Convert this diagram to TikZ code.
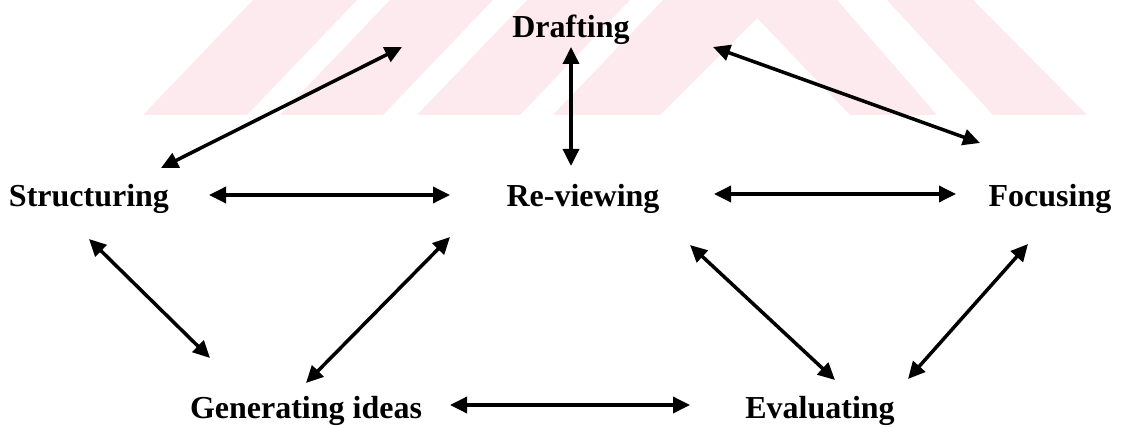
\documentclass[tikz,border=0pt]{standalone}
\usepackage{fontspec}
\setmainfont{Liberation Serif}
\usetikzlibrary{arrows.meta}
\definecolor{wmpink}{RGB}{252,234,238}
\tikzset{
  label/.style={font=\fontsize{32}{38}\selectfont\bfseries, anchor=base, inner sep=0pt},
  link/.style={line width=3.5pt, {Triangle[length=17pt,width=16pt]}-{Triangle[length=17pt,width=16pt]}},
  wm/.style={fill=wmpink, draw=none}
}
\begin{document}
\begin{tikzpicture}[x=1pt,y=-1pt]
\useasboundingbox (0,0) rectangle (1121,427);
% faint background bands
\fill[wm] (143,115) -- (247,115) -- (357,0) -- (253,0) -- cycle;
\fill[wm] (280,115) -- (383,115) -- (493,0) -- (390,0) -- cycle;
\fill[wm] (417,115) -- (520,115) -- (630,0) -- (527,0) -- cycle;
\fill[wm] (553,115) -- (663,0) -- (837,0) -- (937,115) -- (850,115) -- (757,18) -- (660,115) -- cycle;
\fill[wm] (993,115) -- (1087,115) -- (973,0) -- (887,0) -- cycle;

% activities
\node[label] (draft) at (571,38)  {Drafting};
\node[label] (struct) at (89,207) {Structuring};
\node[label] (review) at (583,207) {Re-viewing};
\node[label] (focus) at (1050,207) {Focusing};
\node[label] (gen) at (306,418) {Generating ideas};
\node[label] (eval) at (820,418) {Evaluating};

% arrow end points around each activity
\coordinate (draft-sw) at (402,47);
\coordinate (draft-s)  at (571,47);
\coordinate (draft-se) at (713,47);
\coordinate (struct-ne) at (161,168);
\coordinate (struct-e)  at (209,195);
\coordinate (struct-s)  at (89,239);
\coordinate (review-n)  at (571,166);
\coordinate (review-w)  at (450,195);
\coordinate (review-e)  at (714,194);
\coordinate (review-sw) at (450,237);
\coordinate (review-se) at (690,245);
\coordinate (focus-nw)  at (980,143);
\coordinate (focus-w)   at (956,194);
\coordinate (focus-s)   at (1028,244);
\coordinate (gen-nw)    at (210,358);
\coordinate (gen-ne)    at (306,383);
\coordinate (gen-e)     at (450,405);
\coordinate (eval-w)    at (690,405);
\coordinate (eval-nw)   at (835,380);
\coordinate (eval-ne)   at (908,379);

% two-way links
\draw[link] (draft-sw) -- (struct-ne);
\draw[link] (draft-s) -- (review-n);
\draw[link] (draft-se) -- (focus-nw);
\draw[link] (struct-e) -- (review-w);
\draw[link] (review-e) -- (focus-w);
\draw[link] (struct-s) -- (gen-nw);
\draw[link] (review-sw) -- (gen-ne);
\draw[link] (gen-e) -- (eval-w);
\draw[link] (review-se) -- (eval-nw);
\draw[link] (focus-s) -- (eval-ne);
\end{tikzpicture}
\end{document}
